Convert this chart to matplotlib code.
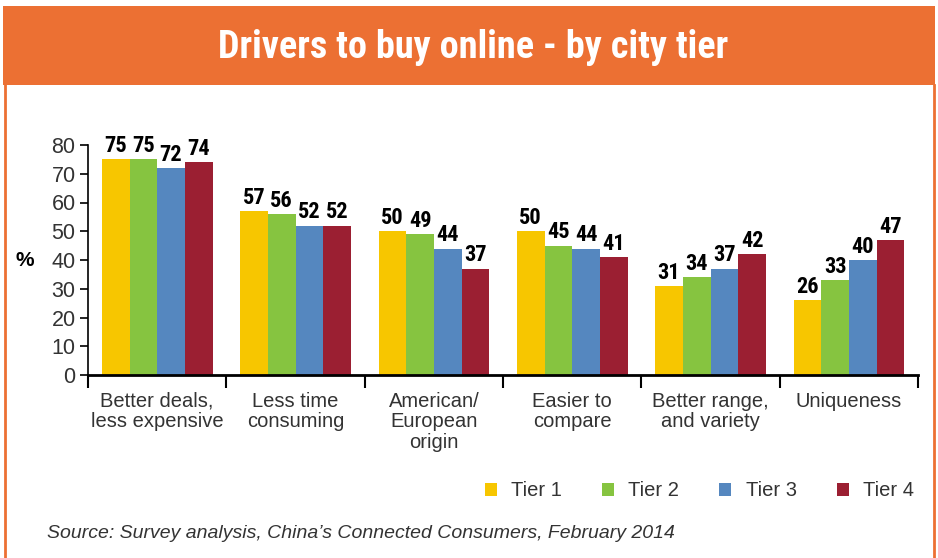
import numpy as np
import matplotlib
matplotlib.use("Agg")
import matplotlib.pyplot as plt
from matplotlib.patches import Rectangle
from matplotlib.lines import Line2D

# data
categories = ["Better deals,\nless expensive", "Less time\nconsuming", "American/\nEuropean\norigin",
              "Easier to\ncompare", "Better range,\nand variety", "Uniqueness"]
tiers = ["Tier 1", "Tier 2", "Tier 3", "Tier 4"]
tier1 = [75, 57, 50, 50, 31, 26]
tier2 = [75, 56, 49, 45, 34, 33]
tier3 = [72, 52, 44, 44, 37, 40]
tier4 = [74, 52, 37, 41, 42, 47]

colors = ["#F7C600", "#86C440", "#5587BF", "#9B1F32"]
orange = "#EC7033"
narrow = ["Roboto Condensed", "DejaVu Sans"]
plain = ["Liberation Sans", "DejaVu Sans"]

W, H = 938, 558
fig = plt.figure(figsize=(W / 100, H / 100), dpi=100)

# orange header band + frame lines
fig.patches.append(Rectangle((3 / W, 1 - 85 / H), 932 / W, 79 / H, transform=fig.transFigure,
                             facecolor=orange, edgecolor="none", zorder=0))
fig.lines.append(Line2D([5 / W, 5 / W], [0, 1 - 85 / H], transform=fig.transFigure, color=orange, lw=2))
fig.lines.append(Line2D([934 / W, 934 / W], [0, 1 - 85 / H], transform=fig.transFigure, color=orange, lw=2))
fig.text(473 / W, 1 - 48 / H, "Drivers to buy online - by city tier", color="white", fontsize=27.5,
         fontweight="bold", family=narrow, ha="center", va="center")

ax = fig.add_axes([88 / W, 1 - 375 / H, 830 / W, 230 / H])

x = np.arange(len(categories))
w = 0.2
for i, vals in enumerate([tier1, tier2, tier3, tier4]):
    bars = ax.bar(x + (i - 1.5) * w, vals, width=w, color=colors[i], label=tiers[i], zorder=2)
    for b, v in zip(bars, vals):
        ax.text(b.get_x() + b.get_width() / 2, v + 0.8, str(v), ha="center", va="bottom",
                fontsize=16, fontweight="bold", family=narrow, color="black")

ax.set_xlim(-0.5, len(categories) - 0.5)
ax.set_ylim(0, 80)
ax.set_yticks(range(0, 81, 10))
ax.tick_params(axis="y", labelsize=15.5, labelcolor="#333333", length=6, width=1.2, direction="out", pad=3)
for lab in ax.get_yticklabels():
    lab.set_family(plain)

ax.set_xticks(np.arange(len(categories) + 1) - 0.5)
ax.set_xticklabels([])
ax.tick_params(axis="x", which="major", length=9, width=1.5, direction="out")
ax.set_xticks(x, minor=True)
ax.set_xticklabels(categories, minor=True, fontsize=14.5, color="#333333", family=plain, linespacing=1.12)
ax.tick_params(axis="x", which="minor", length=0, pad=12)

for s in ["top", "right"]:
    ax.spines[s].set_visible(False)
ax.spines["left"].set_linewidth(1.2)
ax.spines["bottom"].set_linewidth(2)

fig.text(25 / W, 1 - 260 / H, "%", fontsize=15, fontweight="bold", family=plain, ha="center", va="center")

leg = fig.legend(loc="center right", bbox_to_anchor=(914 / W, 1 - 491 / H), ncol=4, frameon=False,
                 handlelength=0.6, handleheight=0.6, handletextpad=0.7, columnspacing=2.0,
                 borderaxespad=0, borderpad=0, prop={"family": plain, "size": 14.5})
for t in leg.get_texts():
    t.set_color("#333333")

fig.text(47 / W, 1 - 533 / H, "Source: Survey analysis, China\u2019s Connected Consumers, February 2014",
         fontsize=14, style="italic", family=plain, color="#333333", ha="left", va="center")

fig.savefig("out.png", dpi=100)
